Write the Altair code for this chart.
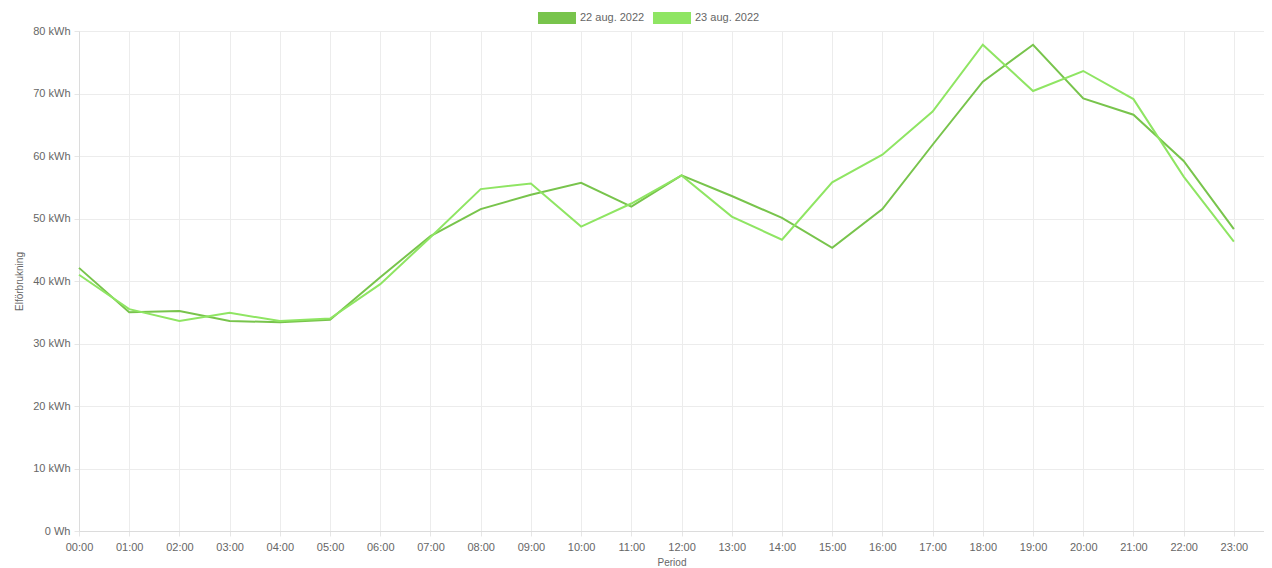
import altair as alt
import pandas as pd

hours = list(range(24))
series_names = ["22 aug. 2022", "23 aug. 2022"]
aug22 = [42.1, 35.0, 35.2, 33.6, 33.4, 33.8, 40.6, 47.2, 51.5, 53.8, 55.7, 51.9,
         56.9, 53.6, 50.1, 45.3, 51.5, 61.8, 71.9, 77.8, 69.2, 66.6, 59.2, 48.3]
aug23 = [41.0, 35.5, 33.6, 34.9, 33.6, 34.0, 39.5, 47.0, 54.7, 55.6, 48.7, 52.4,
         56.9, 50.3, 46.6, 55.8, 60.2, 67.1, 77.8, 70.4, 73.6, 69.1, 56.7, 46.3]
colors = ["#78c44c", "#8fe563"]

rows = []
for name, vals in zip(series_names, [aug22, aug23]):
    for h, v in zip(hours, vals):
        rows.append({"hour": h, "value": v, "series": name})
df = pd.DataFrame(rows)

font = "Liberation Sans"

chart = alt.Chart(df).mark_line(strokeWidth=2).encode(
    x=alt.X("hour:Q",
            scale=alt.Scale(domain=[0, 23.6], nice=False, zero=False),
            axis=alt.Axis(values=hours,
                          labelExpr="(datum.value < 10 ? '0' : '') + datum.value + ':00'",
                          title="Period", titleFontSize=10, titleFontWeight="normal",
                          titleColor="#666", titleFont=font, titlePadding=5,
                          labelFont=font, labelFontSize=11, labelColor="#666",
                          labelPadding=5, tickSize=5, tickColor="#e6e6e6",
                          domainColor="#dcdcdc", gridColor="#ececec", labelFlush=False)),
    y=alt.Y("value:Q",
            scale=alt.Scale(domain=[0, 80], nice=False),
            axis=alt.Axis(values=[0, 10, 20, 30, 40, 50, 60, 70, 80],
                          labelExpr="datum.value == 0 ? '0 Wh' : datum.value + ' kWh'",
                          title="Elförbrukning", titleFontSize=10, titleFontWeight="normal",
                          titleColor="#666", titleFont=font, titlePadding=8,
                          labelFont=font, labelFontSize=11, labelColor="#666",
                          labelPadding=4, tickSize=5, tickColor="#e6e6e6",
                          domainColor="#dcdcdc", gridColor="#ececec")),
    color=alt.Color("series:N",
                    scale=alt.Scale(domain=series_names, range=colors),
                    legend=alt.Legend(orient="none", legendX=451, legendY=-38,
                                      direction="horizontal", title=None,
                                      symbolType="M-0.895,0L1.105,0",
                                      symbolSize=1444, symbolStrokeWidth=12,
                                      symbolOpacity=1,
                                      labelFont=font, labelFontSize=11, labelColor="#666",
                                      labelOffset=0, columnPadding=-22)),
    order=alt.Order("hour:Q"),
).properties(
    width=1185, height=500,
    autosize=alt.AutoSizeParams(type="none"),
    padding={"left": 71, "top": 23, "right": 0, "bottom": 36},
).configure_view(stroke=None)

chart.save("out.html", embed_options={"renderer": "svg", "actions": False})
